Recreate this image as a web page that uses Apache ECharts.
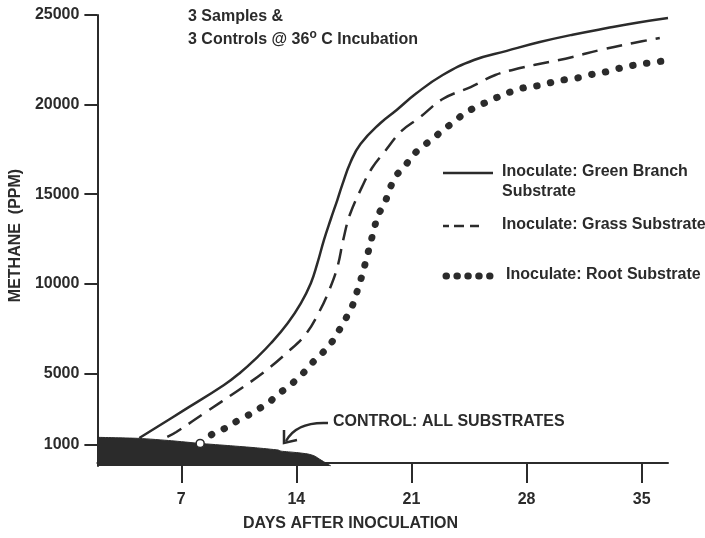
<!DOCTYPE html>
<html><head><meta charset="utf-8">
<script src="https://cdn.jsdelivr.net/npm/echarts@6/dist/echarts.min.js"></script>
<style>html,body{margin:0;padding:0;background:#fff}#c{width:705px;height:538px}</style>
</head><body><div id="c"></div>
<script>
// ---- data (days after inoculation, methane ppm) ----
const xTicks = [7, 14, 21, 28, 35];
const yTicks = [1000, 5000, 10000, 15000, 20000, 25000];
const greenBranch = [[4.45,1390],[7.0,2850],[9.6,4350],[10.6,5050],[11.55,5840],[12.45,6680],[13.47,7800],[14.27,8910],[14.88,10030],[15.28,11150],[15.68,12450],[16.09,13600],[16.5,14700],[16.8,15550],[17.3,16800],[17.9,17800],[19.1,18960],[20.1,19700],[21.3,20630],[22.9,21650],[24.8,22490],[26.8,23000],[28.8,23490],[30.8,23900],[32.9,24270],[34.8,24580],[36.6,24830]];
const grass = [[6.15,1450],[6.7,1730],[8.6,2900],[10.3,3950],[12.0,5050],[13.5,6210],[14.58,7200],[15.4,8450],[16.0,9650],[16.5,10950],[16.85,12450],[17.25,13850],[18.0,15420],[18.6,16460],[19.4,17410],[20.4,18530],[21.5,19280],[22.9,20310],[24.6,20980],[26.1,21650],[27.6,22040],[29.4,22380],[30.8,22660],[32.5,23050],[34.5,23440],[36.1,23720]];
const root = [[8.15,1090],[8.9,1610],[9.7,1950],[10.3,2290],[11.1,2680],[11.7,3010],[12.3,3350],[12.9,3850],[13.5,4240],[14.1,4740],[14.6,5190],[15.1,5720],[15.7,6250],[16.2,6800],[16.66,7500],[17.1,8220],[17.47,8910],[17.75,9750],[18.05,10640],[18.25,11370],[18.47,12130],[18.7,12960],[18.96,13800],[19.4,14570],[19.7,15350],[20.1,16070],[20.6,16570],[21.1,17190],[21.7,17690],[22.3,18080],[22.9,18580],[23.5,18970],[24.1,19420],[24.8,19810],[25.6,20150],[26.4,20480],[27.0,20700],[27.8,20930],[28.6,21040],[29.4,21210],[30.2,21370],[31.1,21490],[32.1,21710],[32.8,21820],[33.7,22040],[34.6,22210],[35.4,22320],[36.3,22430]];
const control = [[1.9,1430],[4.45,1370],[6.4,1240],[8.15,1090],[10.0,960],[11.5,850],[12.9,720],[13.06,660],[14.0,580],[14.7,500],[15.1,390],[15.5,160],[16.1,-170]];
const seriesNames = ['Inoculate: Green Branch\nSubstrate','Inoculate: Grass Substrate','Inoculate: Root Substrate','CONTROL: ALL SUBSTRATES'];

const INK = '#2b2b2b';
const FONT = 'Liberation Sans';
const F16 = 'bold 16px "Liberation Sans"';
const chart = echarts.init(document.getElementById('c'), null, {renderer:'canvas'});
const txt = (s, x, y) => ({type:'text', left:x, top:y, style:{text:s, fill:INK, font:F16}});
const seg = (x1, x2, y) => ({type:'line', shape:{x1:x1,y1:y,x2:x2,y2:y}, style:{stroke:INK, lineWidth:2.5}});

chart.setOption({
  animation:false,
  backgroundColor:'#fff',
  grid:{left:96, right:37, top:15, bottom:72, containLabel:false},
  xAxis:{type:'value', min:1.9, max:36.6,
    axisLine:{show:true, lineStyle:{color:INK, width:2}},
    axisTick:{show:true, customValues:xTicks, length:20, lineStyle:{color:INK, width:2}},
    axisLabel:{customValues:xTicks, margin:26, color:INK, fontFamily:FONT, fontWeight:'bold', fontSize:16},
    splitLine:{show:false}},
  yAxis:{type:'value', min:-170, max:25000,
    name:'METHANE  (PPM)', nameLocation:'middle', nameGap:63, nameRotate:90,
    nameTextStyle:{color:INK, fontFamily:FONT, fontWeight:'bold', fontSize:16, padding:[0,0,0,10]},
    axisLine:{show:true, lineStyle:{color:INK, width:2}},
    axisTick:{show:true, customValues:yTicks, length:13, lineStyle:{color:INK, width:2}},
    axisLabel:{customValues:yTicks, margin:18, color:INK, fontFamily:FONT, fontWeight:'bold', fontSize:16, formatter:v => String(v)},
    splitLine:{show:false}},
  series:[
    {name:seriesNames[3], type:'line', data:control, showSymbol:false, smooth:0.2,
      lineStyle:{color:INK, width:1}, areaStyle:{color:INK, opacity:1, origin:'start'}, z:1},
    {name:seriesNames[0], type:'line', data:greenBranch, showSymbol:false, smooth:0.45,
      lineStyle:{color:INK, width:2.5}, z:3},
    {name:seriesNames[1], type:'line', data:grass, showSymbol:false, smooth:0.4,
      lineStyle:{color:INK, width:2.5, type:[16,9]}, z:3},
    {name:seriesNames[2], type:'line', data:root, smooth:0.3, showSymbol:false,
      lineStyle:{color:INK, width:7, type:[0.5,13.5], cap:'round'}, z:3,
      markPoint:{symbol:'circle', symbolSize:8, itemStyle:{color:'#fff', borderColor:INK, borderWidth:1.5}, label:{show:false},
        data:[{coord:root[0]}]}}
  ],
  graphic:[
    txt('3 Samples &', 188, 9),
    {type:'text', left:188, top:29, style:{rich:{a:{font:F16, fill:INK}, s:{font:'bold 12px "Liberation Sans"', fill:INK, padding:[0,0,9,0]}}, text:'{a|3 Controls @ 36}{s|o}{a| C Incubation}'}},
    txt('DAYS AFTER INOCULATION', 243, 516),
    // legend
    seg(443, 493, 173),
    txt(seriesNames[0].split('\n')[0], 502, 164),
    txt(seriesNames[0].split('\n')[1], 502, 184),
    seg(443, 449, 226), seg(454, 464, 226), seg(470, 479, 226),
    txt(seriesNames[1], 502, 217),
    {type:'line', shape:{x1:446,y1:276,x2:490,y2:276}, style:{stroke:INK, lineWidth:7, lineCap:'round', lineDash:[0.5,10.4]}},
    txt(seriesNames[2], 506, 267),
    // control annotation
    txt(seriesNames[3], 333, 414),
    {type:'bezierCurve', shape:{x1:328,y1:423,cpx1:308,cpy1:422,cpx2:293,cpy2:428,x2:286,y2:441}, style:{stroke:INK, lineWidth:2.5, fill:null}},
    {type:'polyline', shape:{points:[[284,430],[284,443],[297,440]]}, style:{stroke:INK, lineWidth:2.5, fill:null}}
  ]
});
</script>
</body></html>
